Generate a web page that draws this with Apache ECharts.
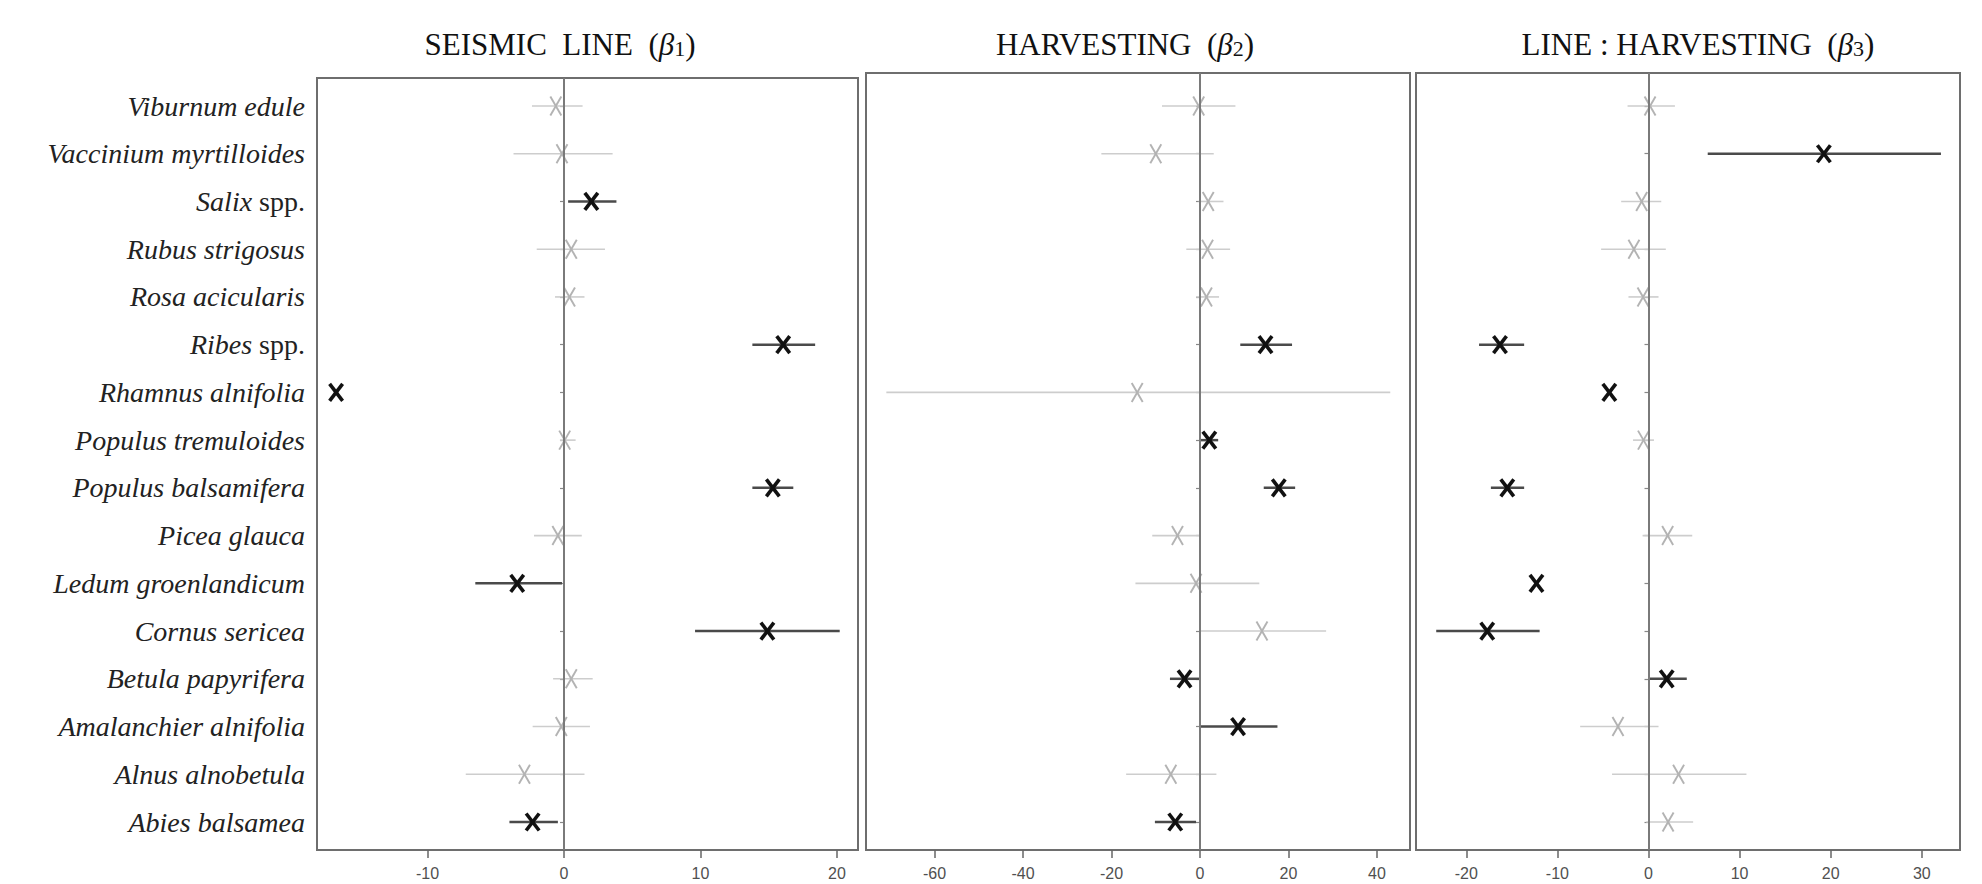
<!DOCTYPE html>
<html><head><meta charset="utf-8">
<script src="https://cdn.jsdelivr.net/npm/echarts@6/dist/echarts.min.js"></script>
<style>html,body{margin:0;padding:0;background:#fff}#c{width:1982px;height:884px}</style>
</head><body><div id="c"></div><script>
// ---- data ----
const species = ['Viburnum edule','Vaccinium myrtilloides','Salix spp.','Rubus strigosus','Rosa acicularis','Ribes spp.','Rhamnus alnifolia','Populus tremuloides','Populus balsamifera','Picea glauca','Ledum groenlandicum','Cornus sericea','Betula papyrifera','Amalanchier alnifolia','Alnus alnobetula','Abies balsamea'];
const panelTitles = ['SEISMIC  LINE  ', 'HARVESTING  ', 'LINE : HARVESTING  '];
const betaIndex = ['1','2','3'];

const seismicEst = [-0.6, -0.15, 2.0, 0.53, 0.4, 16.06, -16.7, 0.05, 15.3, -0.45, -3.43, 14.9, 0.53, -0.2, -2.9, -2.3];
const seismicLo  = [-2.35, -3.7, 0.3, -2.0, -0.66, 13.8, -16.7, -0.3, 13.8, -2.2, -6.5, 9.6, -0.8, -2.3, -7.2, -4.0];
const seismicHi  = [1.36, 3.56, 3.84, 3.0, 1.5, 18.4, -16.7, 0.85, 16.8, 1.3, -0.15, 20.2, 2.1, 1.9, 1.5, -0.45];
const seismicSig = [0,0,1,0,0,1,1,0,1,0,1,1,0,0,0,1];

const harvestEst = [-0.3, -10.0, 1.85, 1.7, 1.45, 14.8, -14.2, 2.1, 17.8, -5.1, -0.9, 14.0, -3.5, 8.6, -6.6, -5.6];
const harvestLo  = [-8.6, -22.3, -0.3, -3.1, -0.9, 9.1, -70.9, 0.1, 14.4, -10.8, -14.6, 0.1, -6.8, 0.1, -16.7, -10.2];
const harvestHi  = [8.0, 3.1, 5.3, 6.8, 4.3, 20.8, 43.0, 4.1, 21.5, 0.1, 13.4, 28.5, 0.1, 17.5, 3.7, -0.9];
const harvestSig = [0,0,0,0,0,1,0,1,1,0,0,0,1,1,0,1];

const interEst = [0.17, 19.25, -0.75, -1.6, -0.6, -16.3, -4.3, -0.55, -15.5, 2.1, -12.3, -17.7, 2.0, -3.35, 3.3, 2.15];
const interLo  = [-2.3, 6.5, -3.0, -5.2, -2.2, -18.6, -4.3, -1.7, -17.3, -0.65, -12.3, -23.3, 0.0, -7.5, -4.0, -0.25];
const interHi  = [2.9, 32.1, 1.4, 1.9, 1.1, -13.65, -4.3, 0.6, -13.65, 4.8, -12.3, -11.95, 4.2, 1.1, 10.75, 4.9];
const interSig = [0,1,0,0,0,1,1,0,1,0,1,1,1,0,0,0];

const seismicTicks = [-10, 0, 10, 20];
const harvestTicks = [-60, -40, -20, 0, 20, 40];
const interTicks   = [-20, -10, 0, 10, 20, 30];

// ---- layout ----
const rowStep = 716 / 15;
const panels = [
  {left: 317, width: 541, top: 78, height: 772, xmin: -18.1, xmax: 21.54, est: seismicEst, lo: seismicLo, hi: seismicHi, sig: seismicSig, ticks: seismicTicks, tx: 560},
  {left: 866, width: 544, top: 73, height: 777, xmin: -75.5, xmax: 47.46, est: harvestEst, lo: harvestLo, hi: harvestHi, sig: harvestSig, ticks: harvestTicks, tx: 1125},
  {left: 1416, width: 544, top: 73, height: 777, xmin: -25.52, xmax: 34.19, est: interEst, lo: interLo, hi: interHi, sig: interSig, ticks: interTicks, tx: 1698}
];
const rows = species.map((s, i) => i + 1);

function labelFmt(v) {
  const name = species[Math.round(v) - 1];
  if (!name) return '';
  if (name.endsWith(' spp.')) return '{i|' + name.slice(0, -5) + '}{n| spp.}';
  return '{i|' + name + '}';
}

const grids = [], xAxes = [], yAxes = [], series = [], graphics = [];
panels.forEach((p, k) => {
  const ymin = 1 - (106 - p.top) / rowStep;
  const ymax = 16 + (p.top + p.height - 822) / rowStep;
  grids.push({left: p.left, top: p.top, width: p.width, height: p.height, show: true, borderColor: '#6e6e6e', borderWidth: 2, backgroundColor: 'transparent'});
  xAxes.push({
    type: 'value', gridIndex: k, min: p.xmin, max: p.xmax,
    splitLine: {show: false},
    axisLine: {show: false},
    axisTick: {show: true, length: 8, lineStyle: {color: '#666', width: 1.5}, customValues: p.ticks},
    axisLabel: {show: true, margin: 15, color: '#505050', fontSize: 16, fontFamily: 'Liberation Sans Narrow, Liberation Sans, Arial', customValues: p.ticks, formatter: v => String(v)}
  });
  yAxes.push({
    type: 'value', gridIndex: k, min: ymin, max: ymax, inverse: true,
    splitLine: {show: false},
    axisLine: {show: false},
    axisTick: {show: true, length: 4, lineStyle: {color: '#888', width: 1.2}, customValues: rows},
    axisLabel: k === 0 ? {
      show: true, margin: 12, customValues: rows, formatter: labelFmt,
      rich: {
        i: {fontFamily: 'Liberation Serif', fontStyle: 'italic', fontSize: 28, color: '#222'},
        n: {fontFamily: 'Liberation Serif', fontSize: 28, color: '#222'}
      }
    } : {show: false}
  });
  const data = p.est.map((e, i) => [e, p.lo[i], p.hi[i], i + 1, p.sig[i]]);
  series.push({
    type: 'scatter', xAxisIndex: k, yAxisIndex: k, data: [], silent: true, z: 1,
    markLine: {silent: true, symbol: 'none', label: {show: false}, animation: false,
      lineStyle: {color: '#7a7a7a', width: 2, type: 'solid'}, data: [{xAxis: 0}]}
  });
  series.push({
    type: 'custom', xAxisIndex: k, yAxisIndex: k, data: data, z: 3, silent: true, animation: false,
    encode: {x: [0, 1, 2], y: 3},
    renderItem: function (params, api) {
      const y = api.value(3), sig = api.value(4);
      const c = api.coord([api.value(0), y]);
      const a = api.coord([api.value(1), y]);
      const b = api.coord([api.value(2), y]);
      const lineCol = sig ? '#4a4a4a' : '#cdcdcd';
      const lineW = sig ? 2.5 : 1.6;
      const xCol = sig ? '#111' : '#b3b3b3';
      const xW = sig ? 3.6 : 1.9;
      const hw = sig ? 6.5 : 5.5, hh = sig ? 8.5 : 9.5;
      const ch = [];
      if (Math.abs(b[0] - a[0]) > 0.5) {
        ch.push({type: 'line', shape: {x1: a[0], y1: a[1], x2: b[0], y2: b[1]}, style: {stroke: lineCol, lineWidth: lineW}});
      }
      ch.push({type: 'line', shape: {x1: c[0] - hw, y1: c[1] - hh, x2: c[0] + hw, y2: c[1] + hh}, style: {stroke: xCol, lineWidth: xW}});
      ch.push({type: 'line', shape: {x1: c[0] + hw, y1: c[1] - hh, x2: c[0] - hw, y2: c[1] + hh}, style: {stroke: xCol, lineWidth: xW}});
      return {type: 'group', children: ch};
    }
  });
  graphics.push({
    type: 'text', x: p.tx, y: 44, silent: true,
    style: {
      text: '{n|' + panelTitles[k] + '(}{b|β}{s|' + betaIndex[k] + '}{n|)}',
      align: 'center', verticalAlign: 'middle',
      rich: {
        n: {fontFamily: 'Liberation Serif', fontSize: 31, fill: '#111', color: '#111'},
        b: {fontFamily: 'Liberation Serif', fontStyle: 'italic', fontSize: 31, fill: '#111', color: '#111'},
        s: {fontFamily: 'Liberation Serif', fontSize: 22, fill: '#111', color: '#111', verticalAlign: 'bottom', padding: [8, 0, 0, 0]}
      }
    }
  });
});

const chart = echarts.init(document.getElementById('c'), null, {renderer: 'svg'});
chart.setOption({
  backgroundColor: '#fff',
  animation: false,
  grid: grids, xAxis: xAxes, yAxis: yAxes, series: series,
  graphic: graphics
});
</script></body></html>
